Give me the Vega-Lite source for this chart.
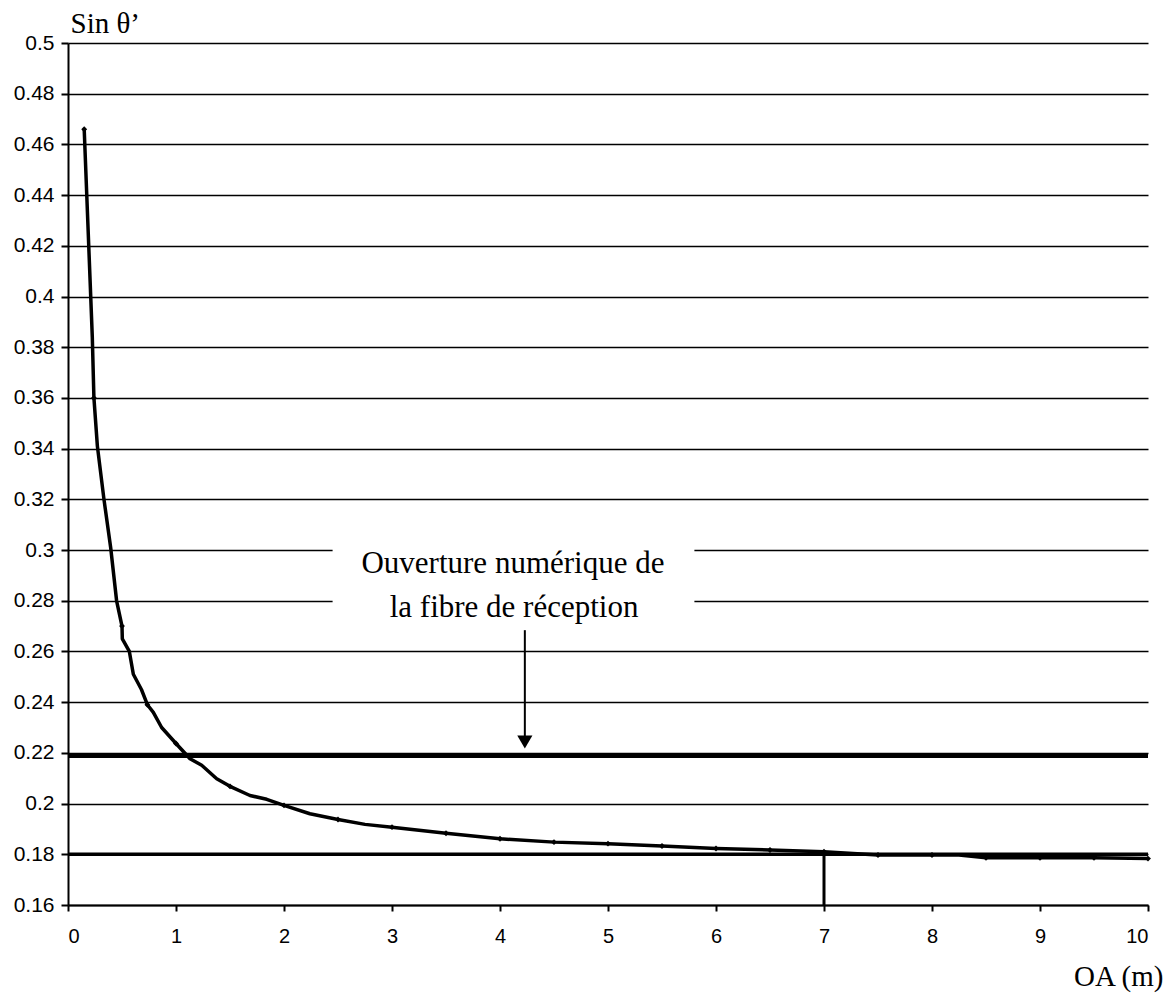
{
  "$schema": "https://vega.github.io/schema/vega-lite/v6.json",
  "width": 1080,
  "height": 862,
  "autosize": "none",
  "padding": {"left": 68, "top": 43, "right": 21, "bottom": 92},
  "background": "white",
  "config": {"view": {"stroke": null}},
  "datasets": {
    "curve": [
      {"n": 1, "x": 0.15, "y": 0.466, "m": 1},
      {"n": 2, "x": 0.225, "y": 0.384, "m": 0},
      {"n": 3, "x": 0.24, "y": 0.36, "m": 1},
      {"n": 4, "x": 0.272, "y": 0.341, "m": 0},
      {"n": 5, "x": 0.333, "y": 0.32, "m": 0},
      {"n": 6, "x": 0.395, "y": 0.301, "m": 0},
      {"n": 7, "x": 0.45, "y": 0.28, "m": 0},
      {"n": 8, "x": 0.5, "y": 0.27, "m": 1},
      {"n": 9, "x": 0.503, "y": 0.265, "m": 0},
      {"n": 10, "x": 0.568, "y": 0.26, "m": 0},
      {"n": 11, "x": 0.605, "y": 0.251, "m": 0},
      {"n": 12, "x": 0.68, "y": 0.245, "m": 0},
      {"n": 13, "x": 0.735, "y": 0.239, "m": 1},
      {"n": 14, "x": 0.79, "y": 0.236, "m": 0},
      {"n": 15, "x": 0.867, "y": 0.23, "m": 0},
      {"n": 16, "x": 1.0, "y": 0.2237, "m": 1},
      {"n": 17, "x": 1.13, "y": 0.2177, "m": 0},
      {"n": 18, "x": 1.238, "y": 0.2151, "m": 0},
      {"n": 19, "x": 1.377, "y": 0.2098, "m": 0},
      {"n": 20, "x": 1.5, "y": 0.2068, "m": 1},
      {"n": 21, "x": 1.685, "y": 0.2032, "m": 0},
      {"n": 22, "x": 1.84, "y": 0.2017, "m": 0},
      {"n": 23, "x": 2.0, "y": 0.1993, "m": 1},
      {"n": 24, "x": 2.24, "y": 0.196, "m": 0},
      {"n": 25, "x": 2.5, "y": 0.1937, "m": 1},
      {"n": 26, "x": 2.75, "y": 0.1918, "m": 0},
      {"n": 27, "x": 3.0, "y": 0.1907, "m": 1},
      {"n": 28, "x": 3.5, "y": 0.1883, "m": 1},
      {"n": 29, "x": 4.0, "y": 0.1861, "m": 1},
      {"n": 30, "x": 4.5, "y": 0.1848, "m": 1},
      {"n": 31, "x": 5.0, "y": 0.1842, "m": 1},
      {"n": 32, "x": 5.5, "y": 0.1833, "m": 1},
      {"n": 33, "x": 6.0, "y": 0.1823, "m": 1},
      {"n": 34, "x": 6.5, "y": 0.1817, "m": 1},
      {"n": 35, "x": 7.0, "y": 0.181, "m": 1},
      {"n": 36, "x": 7.5, "y": 0.1797, "m": 1},
      {"n": 37, "x": 8.0, "y": 0.1797, "m": 1},
      {"n": 38, "x": 8.25, "y": 0.1797, "m": 0},
      {"n": 39, "x": 8.5, "y": 0.1786, "m": 1},
      {"n": 40, "x": 9.0, "y": 0.1786, "m": 1},
      {"n": 41, "x": 9.5, "y": 0.1786, "m": 1},
      {"n": 42, "x": 10.0, "y": 0.1783, "m": 1}
    ]
  },
  "encoding": {
    "x": {
      "field": "x", "type": "quantitative",
      "scale": {"domain": [0, 10], "nice": false, "zero": false},
      "axis": {
        "values": [0, 1, 2, 3, 4, 5, 6, 7, 8, 9, 10],
        "format": "d",
        "grid": false,
        "domainColor": "black", "domainWidth": 2,
        "tickColor": "black", "tickWidth": 2, "tickSize": 6,
        "labelFont": "Liberation Sans", "labelFontSize": 20, "labelColor": "black",
        "labelPadding": 15,
        "title": "OA (m)",
        "titleFont": "Liberation Serif", "titleFontSize": 29, "titleFontWeight": "normal", "titleColor": "black",
        "titleAnchor": "end", "titleAlign": "right", "titleBaseline": "alphabetic",
        "titleX": 1095, "titleY": 80
      }
    },
    "y": {
      "field": "y", "type": "quantitative",
      "scale": {"domain": [0.16, 0.5], "nice": false, "zero": false},
      "axis": {
        "values": [0.16, 0.18, 0.2, 0.22, 0.24, 0.26, 0.28, 0.3, 0.32, 0.34, 0.36, 0.38, 0.4, 0.42, 0.44, 0.46, 0.48, 0.5],
        "format": "~g",
        "grid": true, "gridColor": "black", "gridWidth": 1.3, "gridOpacity": 1,
        "domainColor": "black", "domainWidth": 2,
        "tickColor": "black", "tickWidth": 2, "tickSize": 7,
        "labelFont": "Liberation Sans", "labelFontSize": 21, "labelColor": "black",
        "labelPadding": 7,
        "title": "Sin θ’",
        "titleFont": "Liberation Serif", "titleFontSize": 29, "titleFontWeight": "normal", "titleColor": "black",
        "titleAngle": 0, "titleAlign": "left", "titleBaseline": "alphabetic",
        "titleX": 2, "titleY": -11
      }
    }
  },
  "layer": [
    {
      "data": {"values": [{"x": 2.45, "x2": 5.8, "y": 0.268, "y2": 0.312}]},
      "mark": {"type": "rect", "fill": "white", "stroke": null},
      "encoding": {
        "x2": {"field": "x2"},
        "y2": {"field": "y2"}
      }
    },
    {
      "data": {"values": [{"x": 0, "x2": 10, "y": 0.219}]},
      "mark": {"type": "rule", "color": "black", "strokeWidth": 5},
      "encoding": {
        "x2": {"field": "x2"}
      }
    },
    {
      "data": {"values": [{"x": 0, "x2": 10, "y": 0.18}]},
      "mark": {"type": "rule", "color": "black", "strokeWidth": 3.5},
      "encoding": {
        "x2": {"field": "x2"}
      }
    },
    {
      "data": {"values": [{"x": 7, "y": 0.16, "y2": 0.18}]},
      "mark": {"type": "rule", "color": "black", "strokeWidth": 3},
      "encoding": {
        "y2": {"field": "y2"}
      }
    },
    {
      "data": {"values": [{"x": 4.23, "y": 0.2684, "y2": 0.2246}]},
      "mark": {"type": "rule", "color": "black", "strokeWidth": 2},
      "encoding": {
        "y2": {"field": "y2"}
      }
    },
    {
      "data": {"values": [{"x": 4.23, "y": 0.2243}]},
      "mark": {"type": "point", "shape": "triangle-down", "filled": true, "color": "black", "size": 230, "opacity": 1},
      "encoding": {}
    },
    {
      "data": {"name": "curve"},
      "mark": {"type": "line", "color": "black", "strokeWidth": 3.5, "strokeJoin": "round"},
      "encoding": {
        "order": {"field": "n", "type": "quantitative"}
      }
    },
    {
      "data": {"name": "curve"},
      "transform": [{"filter": "datum.m == 1"}],
      "mark": {"type": "point", "shape": "diamond", "filled": true, "color": "black", "size": 35, "opacity": 1},
      "encoding": {}
    },
    {
      "data": {"values": [
        {"x": 4.12, "y": 0.2909, "t": "Ouverture numérique de"},
        {"x": 4.13, "y": 0.2736, "t": "la fibre de réception"}
      ]},
      "mark": {"type": "text", "font": "Liberation Serif", "fontSize": 31, "color": "black", "align": "center", "baseline": "alphabetic"},
      "encoding": {
        "text": {"field": "t"}
      }
    }
  ]
}
